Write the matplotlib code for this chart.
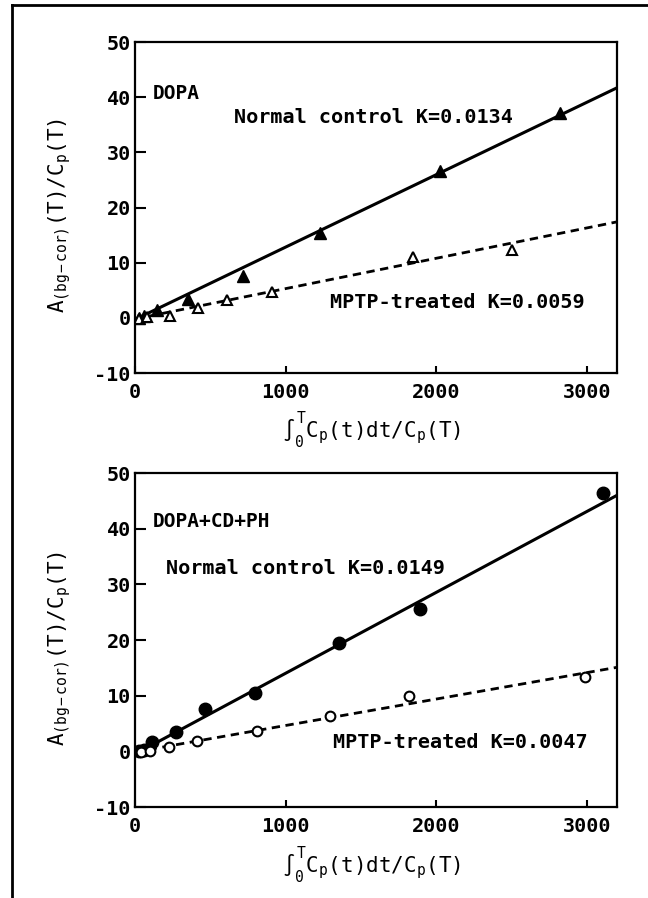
import numpy as np
import matplotlib
matplotlib.use('Agg')
import matplotlib.pyplot as plt
from matplotlib.lines import Line2D

plt.rcParams['font.family'] = ['DejaVu Sans Mono', 'DejaVu Sans']
plt.rcParams['font.weight'] = 'bold'
plt.rcParams['mathtext.fontset'] = 'custom'
plt.rcParams['mathtext.rm'] = 'DejaVu Sans Mono:bold'
plt.rcParams['mathtext.it'] = 'DejaVu Sans Mono:bold'
plt.rcParams['axes.unicode_minus'] = False

# panel 1: DOPA
dopa_normal_x = [30, 60, 143, 354, 719, 1228, 2025, 2821]
dopa_normal_y = [0.0, 0.3, 1.4, 3.5, 7.5, 15.4, 26.7, 37.1]
dopa_mptp_x = [30, 80, 232, 420, 608, 907, 1846, 2505]
dopa_mptp_y = [-0.2, 0.1, 0.4, 1.8, 3.2, 4.7, 11.1, 12.3]
dopa_normal_fit = ([0, 3200], [-0.3, 41.7])
dopa_mptp_fit = ([0, 3200], [-0.2, 17.4])

# panel 2: DOPA+CD+PH
cdph_normal_x = [28, 60, 110, 275, 468, 798, 1354, 1893, 3110]
cdph_normal_y = [0.1, 0.3, 1.6, 3.4, 7.7, 10.5, 19.5, 25.6, 46.5]
cdph_mptp_x = [40, 102, 226, 413, 809, 1294, 1816, 2987]
cdph_mptp_y = [-0.2, 0.1, 0.7, 1.8, 3.7, 6.3, 9.9, 13.3]
cdph_normal_fit = ([0, 3200], [-0.5, 46.0])
cdph_mptp_fit = ([0, 3200], [-0.1, 15.1])

xticks = [0, 1000, 2000, 3000]
yticks = [-10, 0, 10, 20, 30, 40, 50]

ylab = r'$\mathregular{A_{(bg-cor)}(T)/C_p(T)}$'
xlab = r'$\mathregular{\int_0^T C_p(t)dt/C_p(T)}$'

fig = plt.figure(figsize=(6.48, 8.98), dpi=100)
ax1 = fig.add_axes([0.2083, 0.5846, 0.7438, 0.3686])
ax2 = fig.add_axes([0.2083, 0.1013, 0.7438, 0.3719])


def draw(ax, nx, ny, mx, my, nfit, mfit, nmark, mmark, nsize, msize):
    ax.plot(nfit[0], nfit[1], color='black', lw=2.2, solid_capstyle='butt')
    ax.plot(mfit[0], mfit[1], color='black', lw=2.0, linestyle=(0, (3, 2)))
    ax.plot(nx, ny, linestyle='none', marker=nmark, ms=nsize, color='black')
    ax.plot(mx, my, linestyle='none', marker=mmark, ms=msize,
            markerfacecolor='white', markeredgecolor='black', markeredgewidth=1.5)
    ax.set_xlim(0, 3200)
    ax.set_ylim(-10, 50)
    ax.set_xticks(xticks)
    ax.set_yticks(yticks)
    ax.tick_params(direction='in', labelsize=14.5, width=1.5)
    ax.tick_params(axis='x', length=5, pad=7)
    ax.tick_params(axis='y', length=8, pad=3)
    for s in ax.spines.values():
        s.set_linewidth(1.6)
    ax.set_ylabel(ylab, fontsize=15)
    ax.set_xlabel(xlab, fontsize=15)
    ax.yaxis.set_label_coords(-0.128, 0.475)
    ax.xaxis.set_label_coords(0.49, -0.11)


draw(ax1, dopa_normal_x, dopa_normal_y, dopa_mptp_x, dopa_mptp_y,
     dopa_normal_fit, dopa_mptp_fit, '^', '^', 9, 7)
draw(ax2, cdph_normal_x, cdph_normal_y, cdph_mptp_x, cdph_mptp_y,
     cdph_normal_fit, cdph_mptp_fit, 'o', 'o', 9, 7)

ax1.text(115, 40.7, 'DOPA', fontsize=14, va='center', ha='left')
ax1.text(660, 36.3, 'Normal control K=0.0134', fontsize=14.5, va='center', ha='left')
ax1.text(1297, 2.7, 'MPTP-treated K=0.0059', fontsize=14.5, va='center', ha='left')

ax2.text(115, 41.3, 'DOPA+CD+PH', fontsize=14, va='center', ha='left')
ax2.text(204, 32.9, 'Normal control K=0.0149', fontsize=14.5, va='center', ha='left')
ax2.text(1313, 1.6, 'MPTP-treated K=0.0047', fontsize=14.5, va='center', ha='left')

# outer frame (left and top edges only)
fig.add_artist(Line2D([0.0185, 0.0185], [0.0, 0.9944], color='black', lw=2))
fig.add_artist(Line2D([0.0185, 1.0], [0.9944, 0.9944], color='black', lw=2))

fig.savefig('out.png', dpi=100)
